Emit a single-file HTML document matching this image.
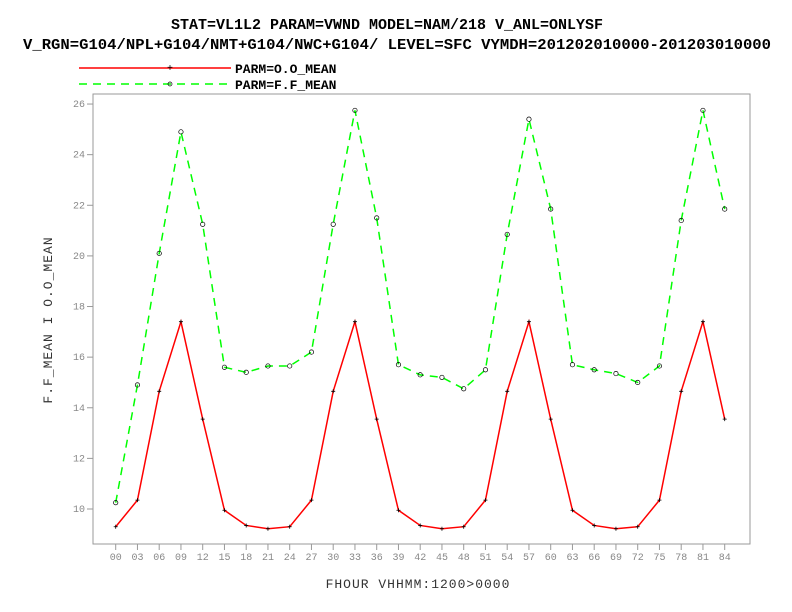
<!DOCTYPE html>
<html><head><meta charset="utf-8"><style>
body{margin:0;background:#fff}
svg{display:block}
text{font-family:"Liberation Mono",monospace}
</style></head><body>
<svg id="chart" width="792" height="612" xmlns="http://www.w3.org/2000/svg">
<text x="387" y="29" text-anchor="middle" font-weight="bold" font-size="15" textLength="432" lengthAdjust="spacingAndGlyphs">STAT=VL1L2 PARAM=VWND MODEL=NAM/218 V_ANL=ONLYSF</text>
<text x="397" y="49" text-anchor="middle" font-weight="bold" font-size="15" textLength="748" lengthAdjust="spacingAndGlyphs">V_RGN=G104/NPL+G104/NMT+G104/NWC+G104/ LEVEL=SFC VYMDH=201202010000-201203010000</text>
<g>
<line x1="79" y1="68" x2="231" y2="68" stroke="#f00" stroke-width="1.5"/>
<text x="170" y="71" font-size="10" text-anchor="middle">+</text>
<text x="235" y="73" font-weight="bold" font-size="13">PARM=O.O_MEAN</text>
<line x1="79" y1="84" x2="231" y2="84" stroke="#0f0" stroke-width="1.5" stroke-dasharray="8,6"/>
<circle cx="170" cy="84" r="2" fill="none" stroke="#000" stroke-width="0.7"/>
<text x="235" y="89" font-weight="bold" font-size="13">PARM=F.F_MEAN</text>
</g>
<rect x="93" y="94" width="657" height="450" fill="none" stroke="#999" stroke-width="1"/>
<g id="axes"></g>
<g id="series"></g>
<text x="418" y="588" text-anchor="middle" font-size="13" fill="#333" letter-spacing="1">FHOUR VHHMM:1200&gt;0000</text>
<text transform="translate(52,320) rotate(-90)" text-anchor="middle" font-size="13" fill="#333" letter-spacing="1">F.F_MEAN I O.O_MEAN</text>
</svg>
<script>
const categories=["00","03","06","09","12","15","18","21","24","27","30","33","36","39","42","45","48","51","54","57","60","63","66","69","72","75","78","81","84"];
const oMean=[9.3,10.35,14.65,17.4,13.55,9.95,9.35,9.22,9.3,10.35,14.65,17.4,13.55,9.95,9.35,9.22,9.3,10.35,14.65,17.4,13.55,9.95,9.35,9.22,9.3,10.35,14.65,17.4,13.55];
const fMean=[10.25,14.9,20.1,24.9,21.25,15.6,15.4,15.65,15.65,16.2,21.25,25.75,21.5,15.7,15.3,15.2,14.75,15.5,20.85,25.4,21.85,15.7,15.5,15.35,15.0,15.65,21.4,25.75,21.85];
const yTicks=[10,12,14,16,18,20,22,24,26];
const NS="http://www.w3.org/2000/svg";
function xS(i){return 115.7+i*21.75;}
function yS(v){return 509-(v-10)*25.31;}
function mk(t,a,p){const e=document.createElementNS(NS,t);for(const k in a)e.setAttribute(k,a[k]);p.appendChild(e);return e;}
const axes=document.getElementById('axes'),ser=document.getElementById('series');
yTicks.forEach(v=>{
  mk('line',{x1:87,x2:93,y1:yS(v),y2:yS(v),stroke:'#999'},axes);
  const t=mk('text',{x:85,y:yS(v)+3,'text-anchor':'end','font-size':'10',fill:'#888'},axes);
  t.textContent=v;
  
  
});
categories.forEach((c,i)=>{
  mk('line',{x1:xS(i),x2:xS(i),y1:544,y2:550,stroke:'#999'},axes);
  const t=mk('text',{x:xS(i),y:560,'text-anchor':'middle','font-size':'10',fill:'#888'},axes);
  t.textContent=c;
  
  
});
const pf=mk('polyline',{points:fMean.map((v,i)=>xS(i)+','+yS(v)).join(' '),fill:'none',stroke:'#0f0','stroke-width':1.5,'stroke-dasharray':'8,6'},ser);


const po=mk('polyline',{points:oMean.map((v,i)=>xS(i)+','+yS(v)).join(' '),fill:'none',stroke:'#f00','stroke-width':1.5},ser);


fMean.forEach((v,i)=>{
  const c=mk('circle',{cx:xS(i),cy:yS(v),r:2.2,fill:'none',stroke:'#000','stroke-width':0.7},ser);
  
  
});
oMean.forEach((v,i)=>{
  const p=mk('path',{d:`M${xS(i)-2},${yS(v)}h4M${xS(i)},${yS(v)-2}v4`,stroke:'#000','stroke-width':0.8},ser);
  
  
});
</script>
</body></html>
